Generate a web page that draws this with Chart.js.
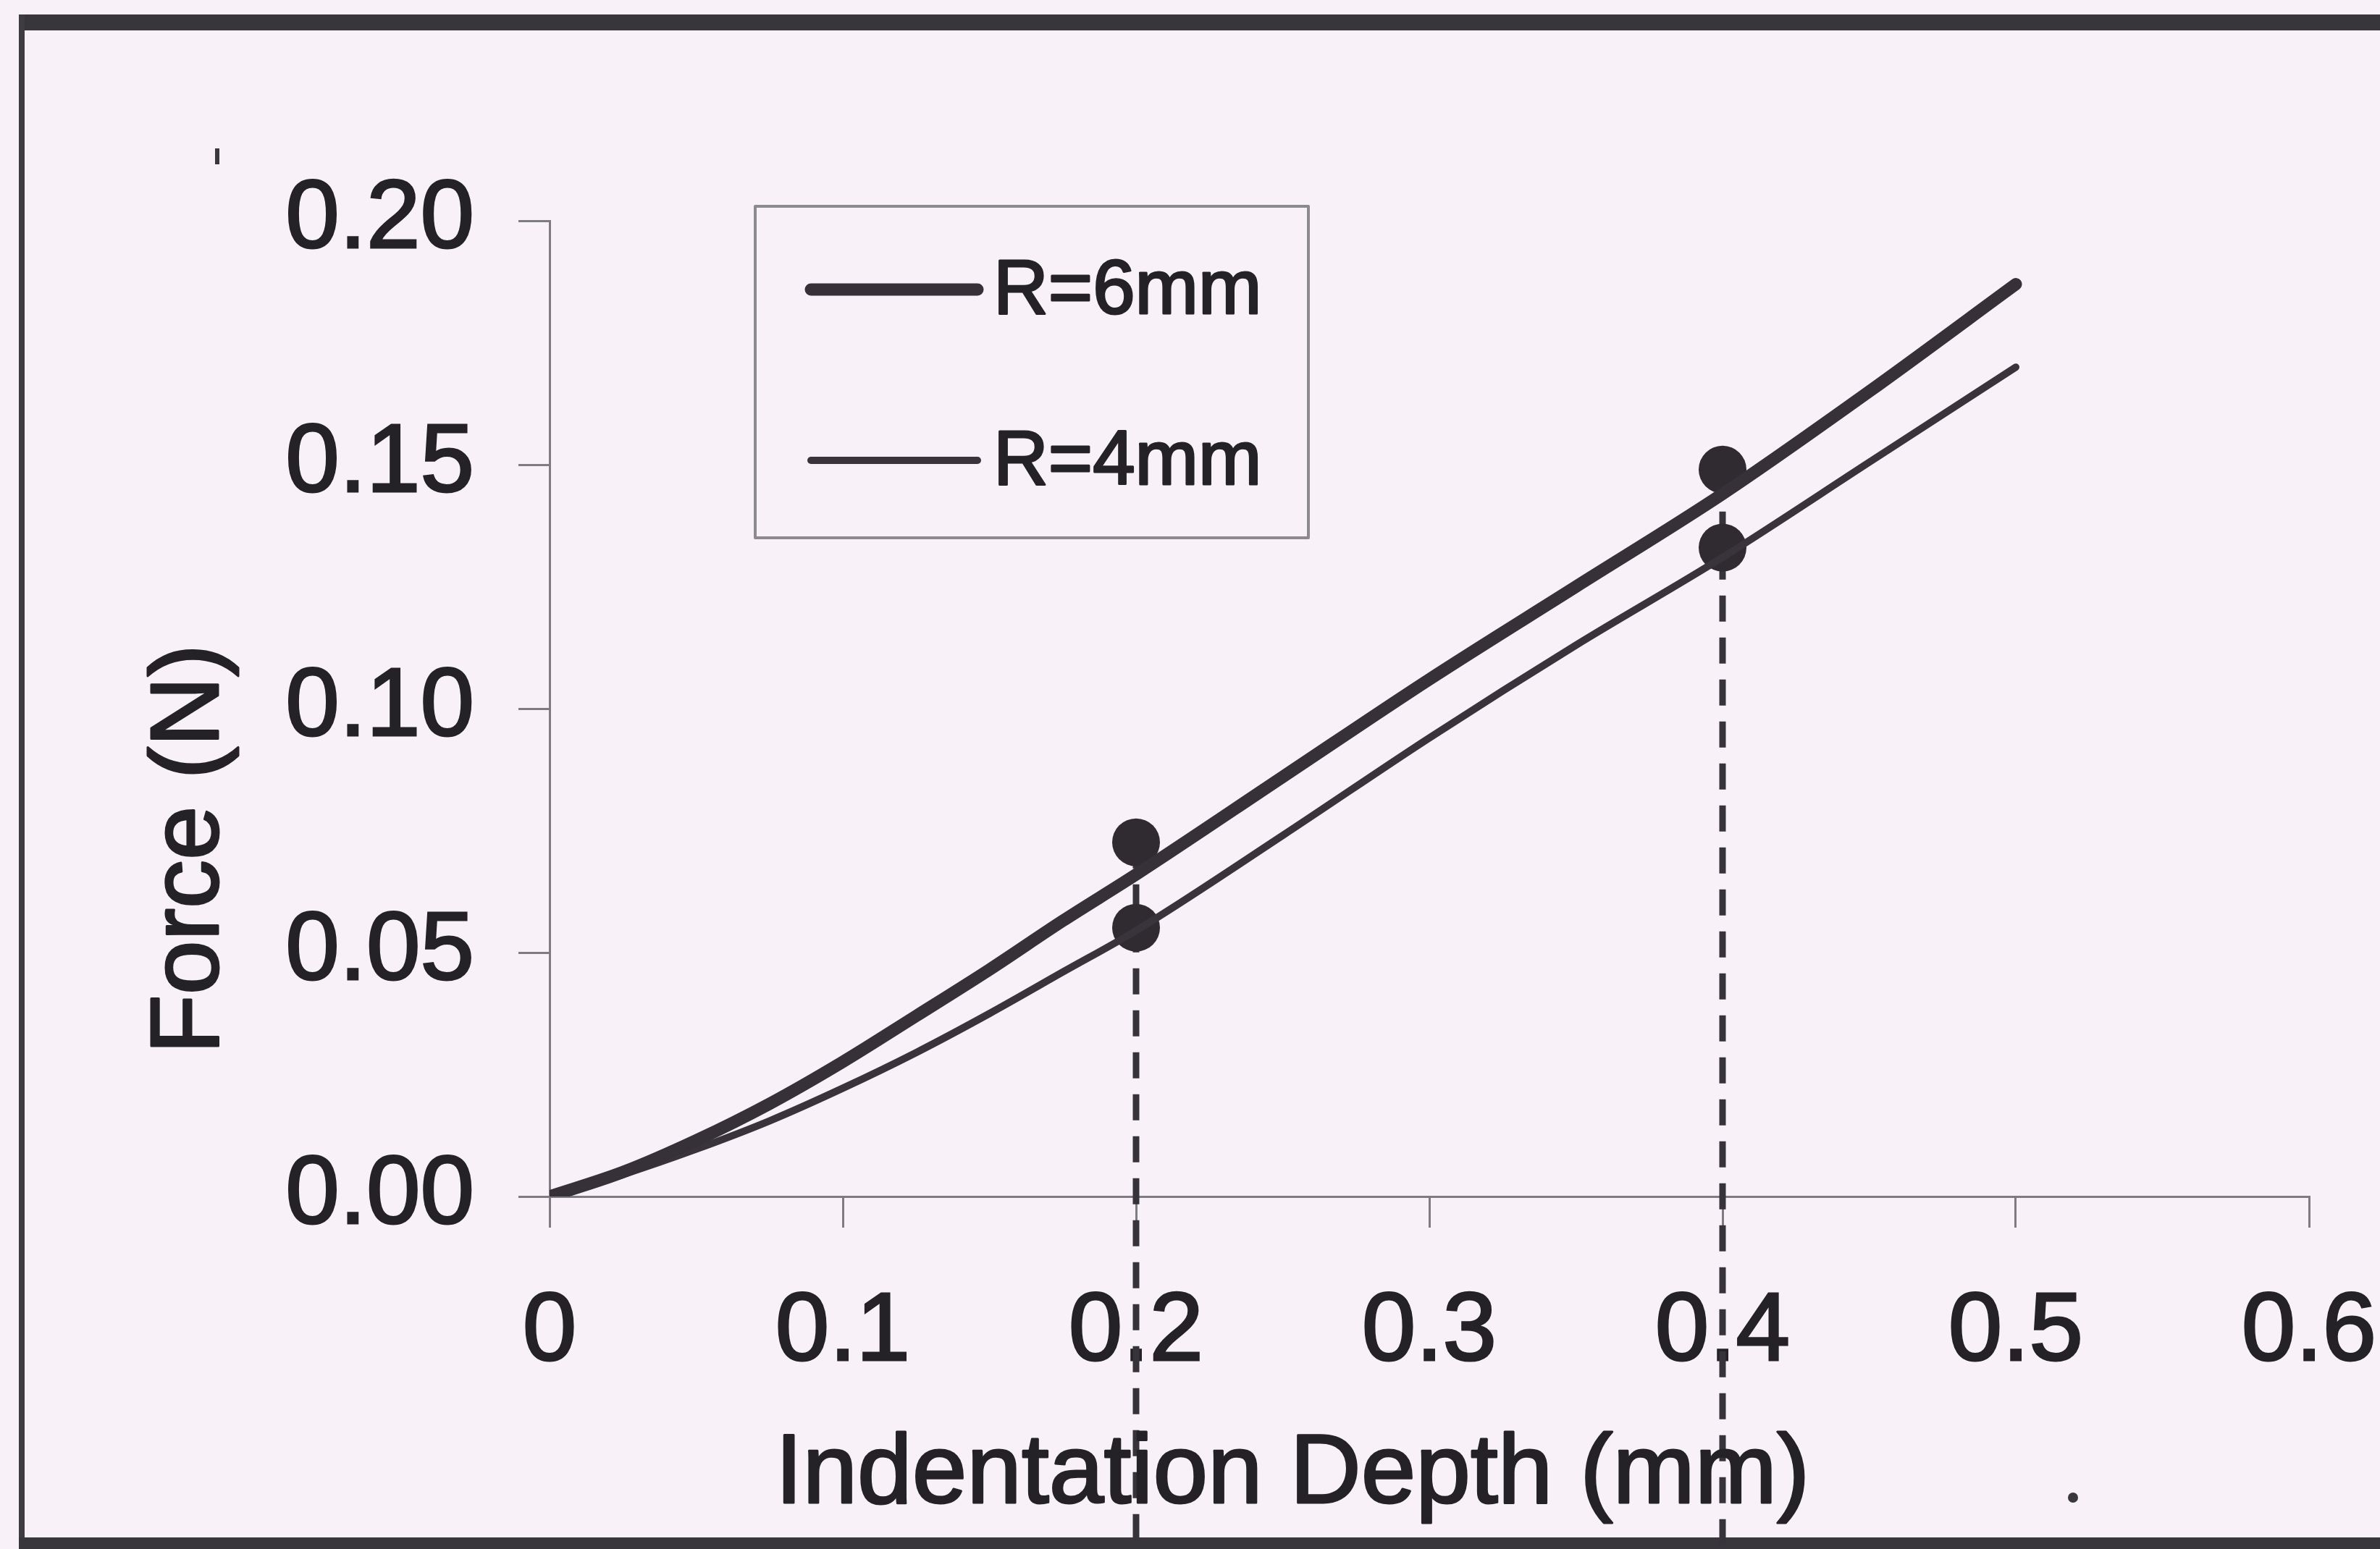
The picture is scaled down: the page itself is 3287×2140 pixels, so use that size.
<!DOCTYPE html>
<html>
<head>
<meta charset="utf-8">
<script src="https://cdn.jsdelivr.net/npm/chart.js@4.4.1/dist/chart.umd.min.js"></script>
<style>
  html, body { margin: 0; padding: 0; background: #f8f2f8; overflow: hidden; }
  #wrap { position: relative; width: 3287px; height: 2140px; overflow: hidden; }
  .bar { position: absolute; background: #38363a; }
  .speck { position: absolute; background: #3a383c; }
  canvas { position: absolute; left: 0; top: 0; }
</style>
</head>
<body>
<div id="wrap">
  <div class="bar" style="left:26px; top:20px; width:3261px; height:22px;"></div>
  <div class="bar" style="left:26px; top:20px; width:8px; height:2120px; background:#3e3c40;"></div>
  <div class="bar" style="left:26px; top:2124px; width:3261px; height:16px;"></div>
  <div class="speck" style="left:297px; top:205px; width:6px; height:22px;"></div>
  <div class="speck" style="left:2856px; top:2062px; width:14px; height:14px; border-radius:7px;"></div>
  <canvas id="chart" width="3287" height="2140"></canvas>
</div>
<script>
// Indentation depth (mm) sampled along the curves
const depth = [0, 0.025, 0.05, 0.075, 0.1, 0.125, 0.15, 0.175, 0.2, 0.25, 0.3, 0.35, 0.4, 0.45, 0.5];
// Force (N) for the two indenter radii
const forceR6 = [0, 0.005, 0.0115, 0.019, 0.0276, 0.037, 0.0465, 0.0565, 0.066, 0.086, 0.106, 0.125, 0.144, 0.165, 0.187];
const forceR4 = [0, 0.0045, 0.0097, 0.0155, 0.0222, 0.0295, 0.0375, 0.046, 0.0545, 0.074, 0.094, 0.113, 0.131, 0.1505, 0.170];
// Measured points
const markerDepth = [0.2, 0.4];
const markerR6 = [0.0726, 0.149];
const markerR4 = [0.0551, 0.133];
const dashBottom = -0.08;

const ink = '#2f2b31';
const textInk = '#242226';
const axisGrey = '#7e7c80';
const font = "'Liberation Sans', Arial, sans-serif";

const toXY = (xs, ys) => xs.map((x, i) => ({ x: x, y: ys[i] }));

const datasets = [
    {
        label: 'R=6mm',
        data: toXY(depth, forceR6),
        showLine: true,
        borderColor: '#363139',
        borderWidth: 17,
        borderCapStyle: 'round',
        pointRadius: 0,
        cubicInterpolationMode: 'monotone'
    },
    {
        label: 'R=4mm',
        data: toXY(depth, forceR4),
        showLine: true,
        borderColor: '#39343b',
        borderWidth: 10,
        borderCapStyle: 'round',
        pointRadius: 0,
        cubicInterpolationMode: 'monotone'
    },
    {
        label: 'points R=6mm',
        data: toXY(markerDepth, markerR6),
        showLine: false,
        pointRadius: 33,
        pointBackgroundColor: ink,
        pointBorderWidth: 0
    },
    {
        label: 'points R=4mm',
        data: toXY(markerDepth, markerR4),
        showLine: false,
        pointRadius: 33,
        pointBackgroundColor: ink,
        pointBorderWidth: 0
    }
];

// dashed drop lines from the measured points down past the axis
markerDepth.forEach((d, i) => {
    datasets.push({
        label: 'drop ' + d,
        data: [{ x: d, y: markerR6[i] }, { x: d, y: dashBottom }],
        showLine: true,
        borderColor: '#37333a',
        borderWidth: 9,
        borderDash: [36, 22],
        pointRadius: 0,
        clip: false
    });
});

// draw text slightly heavier, like the scanned print
function inkText(ctx, str, x, y) {
    ctx.fillText(str, x, y);
    ctx.strokeText(str, x, y);
}

// axis titles and boxed legend, placed like the original figure
const extras = {
    id: 'extras',
    afterDraw(chart) {
        const ctx = chart.ctx;
        ctx.save();
        ctx.fillStyle = textInk;
        ctx.strokeStyle = textInk;
        ctx.lineWidth = 3;
        ctx.lineJoin = 'round';

        ctx.font = '134px ' + font;
        ctx.textAlign = 'center';
        ctx.textBaseline = 'middle';
        ctx.save();
        ctx.translate(264, 1173);
        ctx.rotate(-Math.PI / 2);
        inkText(ctx, 'Force (N)', 0, 0);
        ctx.restore();

        ctx.font = '136px ' + font;
        ctx.textBaseline = 'alphabetic';
        inkText(ctx, 'Indentation Depth (mm)', 1785, 2076);

        // legend
        ctx.strokeStyle = '#8c8a8e';
        ctx.lineWidth = 4;
        ctx.strokeRect(1043, 285, 764, 458);

        const rows = [{ ds: chart.data.datasets[0], y: 400 }, { ds: chart.data.datasets[1], y: 636 }];
        ctx.font = '105px ' + font;
        ctx.textAlign = 'left';
        ctx.textBaseline = 'middle';
        rows.forEach(r => {
            ctx.strokeStyle = r.ds.borderColor;
            ctx.lineWidth = r.ds.borderWidth;
            ctx.lineCap = 'round';
            ctx.beginPath();
            ctx.moveTo(1120, r.y);
            ctx.lineTo(1350, r.y);
            ctx.stroke();
            ctx.strokeStyle = textInk;
            ctx.lineWidth = 3;
            inkText(ctx, r.ds.label, 1372, r.y + 4);
        });
        ctx.restore();
    }
};

new Chart(document.getElementById('chart'), {
    type: 'scatter',
    data: { datasets: datasets },
    options: {
        responsive: false,
        animation: false,
        layout: { padding: { left: 0, top: 305, right: 98, bottom: 0 } },
        plugins: { legend: { display: false }, tooltip: { enabled: false } },
        scales: {
            x: {
                type: 'linear',
                min: 0,
                max: 0.6,
                ticks: {
                    stepSize: 0.1,
                    padding: 66,
                    color: textInk,
                    textStrokeColor: textInk,
                    textStrokeWidth: 3,
                    font: { family: font, size: 134 },
                    callback: v => (v === 0 ? '0' : v.toFixed(1))
                },
                grid: { drawOnChartArea: false, drawTicks: true, tickLength: 43, color: axisGrey, lineWidth: 3 },
                border: { display: true, color: axisGrey, width: 3 },
                afterFit: s => {
                    s.height = 2140 - 1653;
                    s.paddingLeft = 0;
                    s.paddingRight = 98;
                }
            },
            y: {
                type: 'linear',
                min: 0,
                max: 0.2,
                ticks: {
                    stepSize: 0.05,
                    padding: 61,
                    color: textInk,
                    textStrokeColor: textInk,
                    textStrokeWidth: 3,
                    font: { family: font, size: 134 },
                    callback: v => v.toFixed(2)
                },
                grid: { drawOnChartArea: false, drawTicks: true, tickLength: 43, color: axisGrey, lineWidth: 3 },
                border: { display: true, color: axisGrey, width: 3 },
                afterFit: s => { s.width = 759; }
            }
        }
    },
    plugins: [extras]
});
</script>
</body>
</html>
